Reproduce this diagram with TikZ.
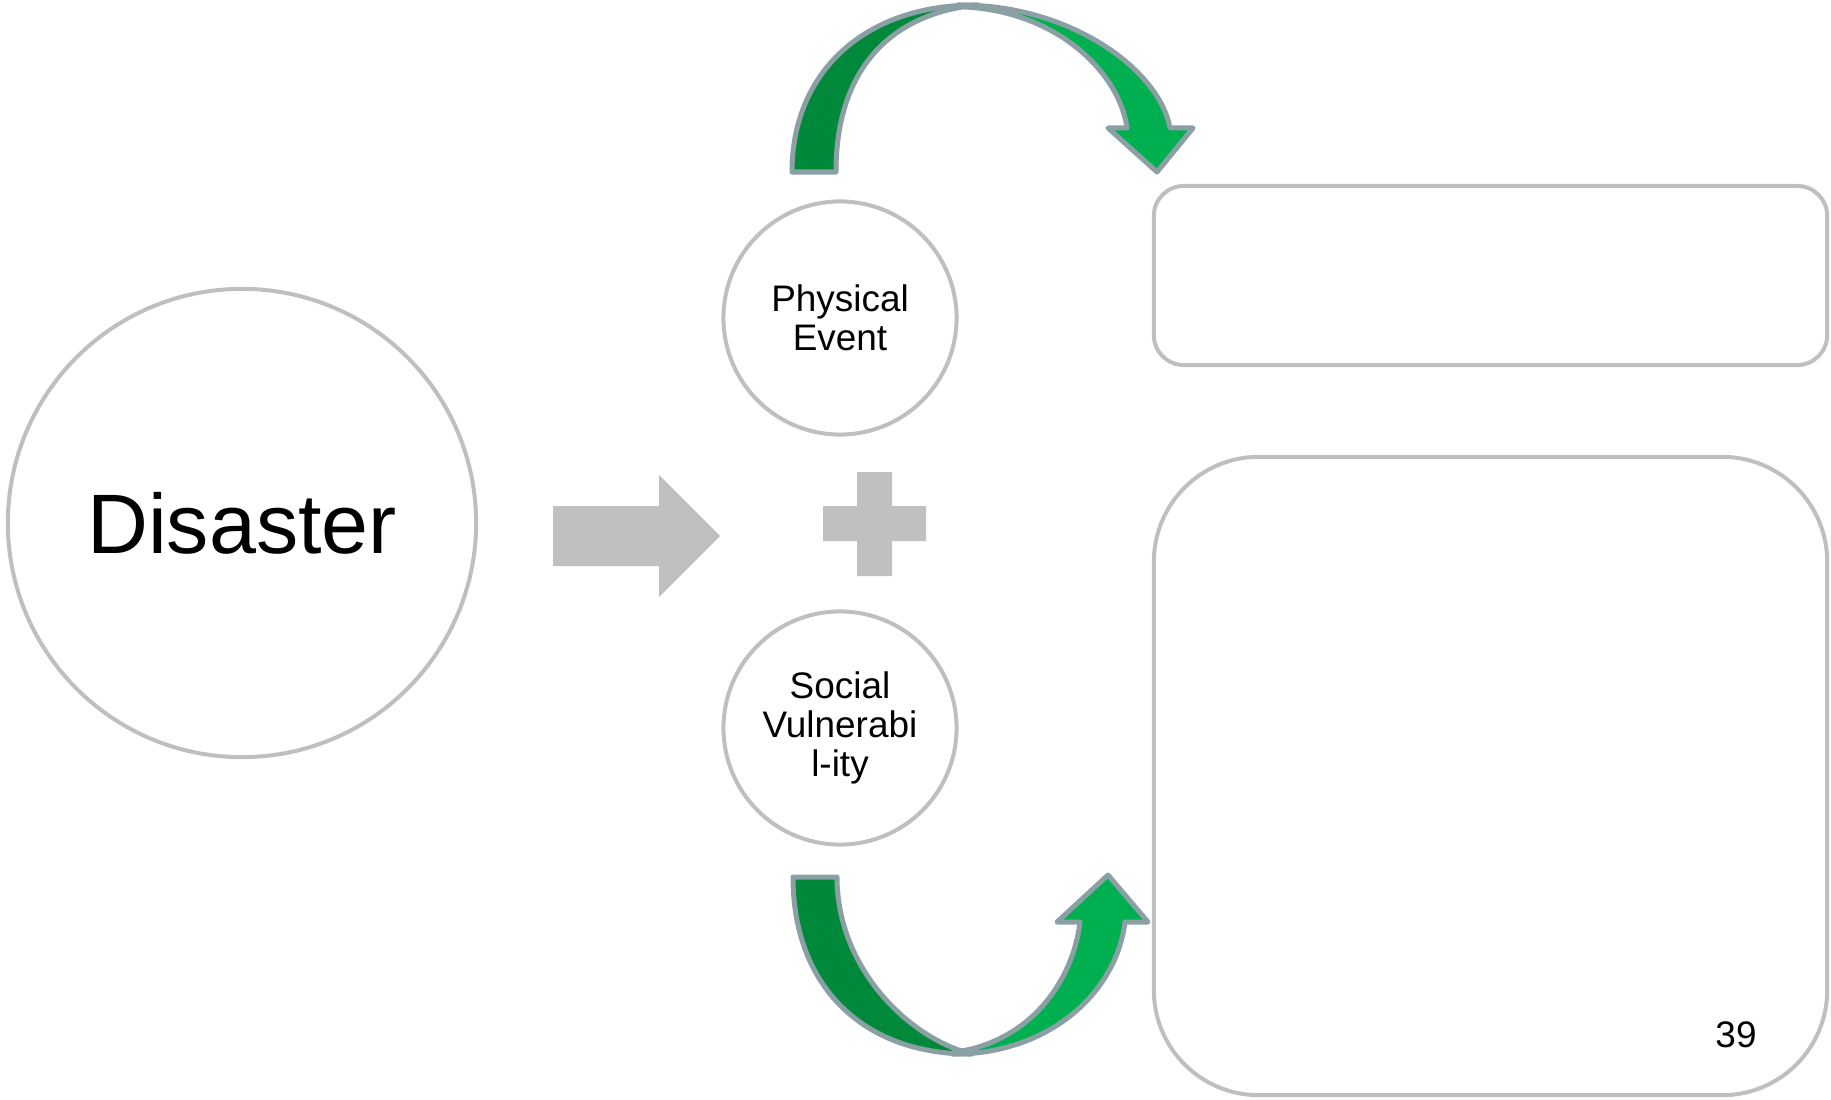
\documentclass[tikz,border=0pt]{standalone}
\usepackage{fontspec}
\setmainfont{Liberation Sans}
\definecolor{ringgray}{RGB}{191,191,191}
\definecolor{blockgray}{RGB}{192,192,192}
\definecolor{darkgreen}{RGB}{0,137,59}
\definecolor{brightgreen}{RGB}{0,176,80}
\definecolor{arrowedge}{RGB}{139,160,164}
\tikzset{
  ring/.style={circle, draw=ringgray, line width=0.04cm, fill=white, inner sep=0pt, align=center},
  panel/.style={rectangle, draw=ringgray, line width=0.04cm, fill=white, inner sep=0pt},
  greenarrow/.style={draw=arrowedge, line width=0.05cm, line join=round, fill=#1},
  smalltext/.style={font=\fontsize{10.5}{11.1}\selectfont},
}
\begin{document}
\begin{tikzpicture}[x=0.01cm,y=0.01cm]
\useasboundingbox (0,0) rectangle (1831,1099);
% big circle
\node[ring, minimum size=4.68cm, font=\fontsize{24}{28}\selectfont] (disaster) at (242,576) {Disaster};
% gray block arrow
\fill[blockgray] (553,593) -- (659,593) -- (659,624) -- (720,563) -- (659,502) -- (659,533) -- (553,533) -- cycle;
% plus
\fill[blockgray] (857,627) -- (892,627) -- (892,593) -- (926,593) -- (926,558) -- (892,558) -- (892,523) -- (857,523) -- (857,558) -- (823,558) -- (823,593) -- (857,593) -- cycle;
% small circles
\node[ring, minimum size=2.33cm, smalltext] (physical) at (840,781) {Physical\\Event};
\node[ring, minimum size=2.33cm, smalltext] (social) at (840,371) {Social\\Vulnerabi\\l-ity};
% boxes
\node[panel, rounded corners=0.3cm, minimum width=6.73cm, minimum height=1.79cm] (topbox) at (1490.5,823.5) {};
\node[panel, rounded corners=1.05cm, minimum width=6.73cm, minimum height=6.38cm] (bottombox) at (1490.5,323) {};
\node[smalltext] (pagenum) at (1736,64) {39};
% top green arrow
\draw[greenarrow=darkgreen] (792,927) .. controls (792,1028) and (866,1095) .. (978,1094)
  .. controls (900,1087) and (836,1039) .. (836,927) -- cycle;
\draw[greenarrow=brightgreen] (958,1094) .. controls (1068,1095) and (1158.6,1031) .. (1170,971)
  -- (1193,971) -- (1157,927) -- (1108,971) -- (1127,971)
  .. controls (1120,1024) and (1060,1087) .. (965,1092) -- cycle;
% bottom green arrow
\draw[greenarrow=darkgreen] (793,222) .. controls (793,112) and (864,44) .. (972,45)
  .. controls (910,60) and (837,130) .. (837,222) -- cycle;
\draw[greenarrow=brightgreen] (952,45) .. controls (1046,44) and (1116,104) .. (1125,177)
  -- (1148,177) -- (1108,224) -- (1057,177) -- (1080,177)
  .. controls (1072.8,117) and (1030,58) .. (956,47) -- cycle;
\end{tikzpicture}
\end{document}
